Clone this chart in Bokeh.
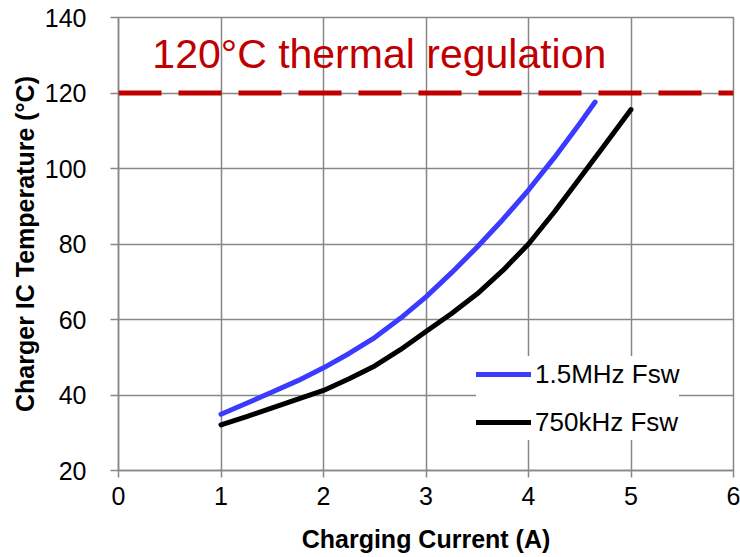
from bokeh.plotting import figure
from bokeh.models import Span, Label, Legend, LegendItem, Range1d, FixedTicker
from bokeh.embed import file_html
from bokeh.resources import INLINE

# Data
x_ticks = [0, 1, 2, 3, 4, 5, 6]
y_ticks = [20, 40, 60, 80, 100, 120, 140]
blue_x = [1.0, 1.25, 1.5, 1.75, 2.0, 2.25, 2.5, 2.75, 3.0, 3.25, 3.5, 3.75, 4.0, 4.25, 4.5, 4.65]
blue_y = [34.9, 37.8, 40.8, 43.8, 47.2, 51.0, 55.2, 60.3, 66.0, 72.4, 79.2, 86.5, 94.3, 102.8, 111.9, 117.6]
black_x = [1.0, 1.25, 1.5, 1.75, 2.0, 2.25, 2.5, 2.75, 3.0, 3.25, 3.5, 3.75, 4.0, 4.25, 4.5, 4.75, 5.0]
black_y = [32.1, 34.3, 36.6, 38.9, 41.2, 44.3, 47.7, 52.0, 56.8, 61.6, 66.8, 73.0, 80.0, 88.4, 97.4, 106.5, 115.6]
series_names = ["1.5MHz Fsw", "750kHz Fsw"]
limit_temp = 120
limit_text = "120°C thermal regulation"

FONT = "Liberation Sans"
GRID = "#878787"
RED = "#C00000"

p = figure(width=740, height=557, output_backend="svg", toolbar_location=None,
           x_range=Range1d(0, 6), y_range=Range1d(20, 140),
           min_border_left=118, min_border_right=7, min_border_top=17, min_border_bottom=87)
p.outline_line_color = GRID
p.outline_line_width = 1.5
p.background_fill_color = "white"
p.border_fill_color = "white"

for ax in (p.xaxis[0], p.yaxis[0]):
    ax.axis_line_color = GRID
    ax.axis_line_width = 1.5
    ax.major_tick_line_color = GRID
    ax.major_tick_line_width = 1.5
    ax.major_tick_in = 0
    ax.minor_tick_line_color = None
    ax.major_label_text_font = FONT
    ax.major_label_text_font_size = "25px"
    ax.major_label_text_color = "black"
    ax.axis_label_text_font = FONT
    ax.axis_label_text_font_size = "25px"
    ax.axis_label_text_font_style = "bold"
    ax.axis_label_text_color = "black"

p.xaxis.ticker = FixedTicker(ticks=x_ticks)
p.yaxis.ticker = FixedTicker(ticks=y_ticks)
p.xaxis.major_tick_out = 7
p.yaxis.major_tick_out = 8
p.xaxis.major_label_standoff = 9
p.yaxis.major_label_standoff = 24
p.xaxis.axis_label = "Charging Current (A)"
p.yaxis.axis_label = "Charger IC Temperature (°C)"
p.xaxis.axis_label_standoff = 17
p.yaxis.axis_label_standoff = 3

p.xgrid.ticker = FixedTicker(ticks=x_ticks)
p.ygrid.ticker = FixedTicker(ticks=y_ticks)
p.grid.grid_line_color = GRID
p.grid.grid_line_width = 1.5

span = Span(location=limit_temp, dimension="width", line_color=RED,
            line_width=5, line_dash="43 17")
p.add_layout(span)

lbl = Label(x=0.33, y=130.2, text=limit_text, text_color=RED,
            text_font=FONT, text_font_size="41px", text_baseline="alphabetic")
p.add_layout(lbl)

r1 = p.line(blue_x, blue_y, line_color="#3B3BFF", line_width=5, line_cap="round", line_join="round")
r2 = p.line(black_x, black_y, line_color="black", line_width=5, line_cap="round", line_join="round")

legend = Legend(items=[LegendItem(label=series_names[0], renderers=[r1]),
                       LegendItem(label=series_names[1], renderers=[r2])],
                location=(358, 30), padding=12, spacing=12, margin=0,
                glyph_width=55, glyph_height=36, label_standoff=4,
                label_text_font=FONT, label_text_font_size="26px",
                label_text_color="black", border_line_color=None,
                background_fill_color="white", background_fill_alpha=1.0)
p.add_layout(legend)

open("out.html", "w").write(file_html(p, INLINE))
